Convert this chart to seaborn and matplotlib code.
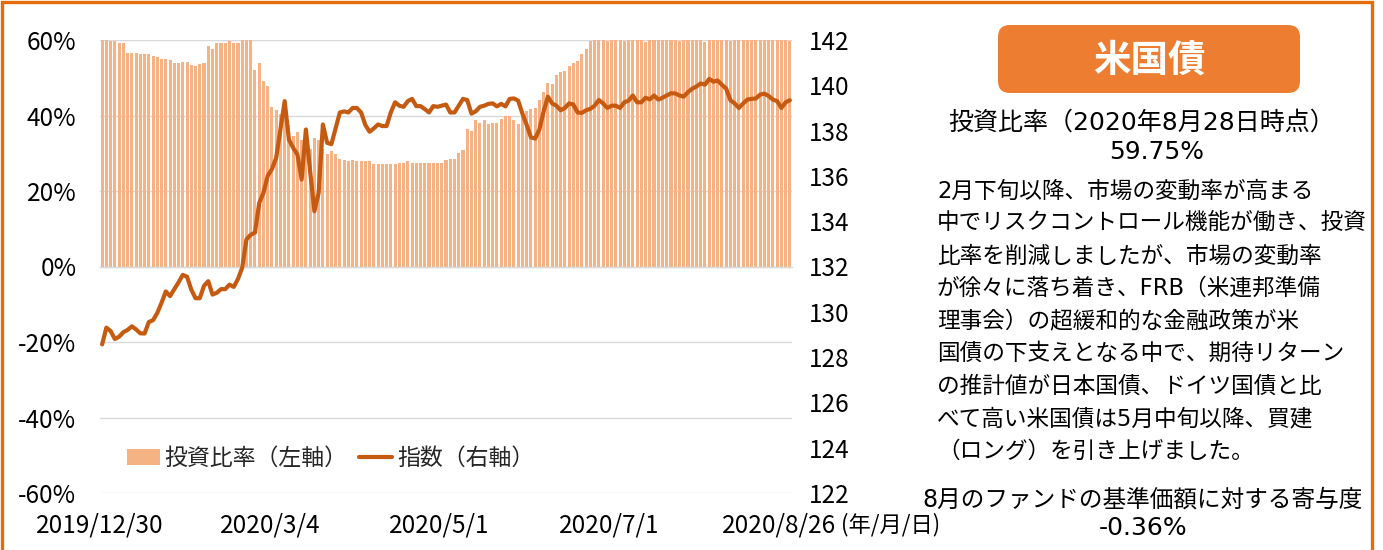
import matplotlib
matplotlib.use("Agg")
import matplotlib.pyplot as plt
import seaborn as sns
import pandas as pd
import numpy as np
from matplotlib.patches import Rectangle, FancyBboxPatch, Patch
from matplotlib.lines import Line2D

# ---------------- data ----------------
tick_labels = ["2019/12/30", "2020/3/4", "2020/5/1", "2020/7/1", "2020/8/26"]
tick_every = 40

ratio = (
    [60.1, 60.0, 59.8, 59.7, 59.3, 59.3]
    + [56.5, 56.5, 56.5, 56.2, 56.2, 56.2]
    + [55.8, 55.4, 55.0, 55.0, 54.7, 54.0, 54.0, 54.3, 54.3, 53.5, 53.2, 53.6, 54.0]
    + [58.3, 57.6, 59.3, 59.3, 59.3, 59.7, 59.3, 59.3, 60.0, 60.3, 60.3]
    + [52.1, 54.0, 49.1, 47.7, 42.2, 41.5, 40.5, 39.0, 37.5, 34.5, 35.5, 33.5, 36.5, 31.0, 34.0, 33.5, 31.0]
    + [29.7, 30.7, 29.7, 28.6, 28.3, 27.9, 28.3, 27.9, 27.9, 27.9, 27.9]
    + [27.2, 27.2, 27.2, 27.2, 27.2, 27.2, 27.5, 27.5, 27.9, 27.5, 27.5, 27.5, 27.5, 27.5, 27.5, 27.5]
    + [27.5, 28.3, 28.6, 28.6, 30.0, 30.9, 36.3, 36.0, 38.8, 38.1, 38.8, 37.8, 38.1, 38.1, 39.2, 39.9,
       39.9, 38.8, 37.8, 39.5, 41.3, 41.7, 42.0]
    + [44.0, 46.3, 48.7, 48.4, 50.7, 51.4, 51.7, 53.2, 54.0, 54.4, 56.2, 57.6, 59.7]
    + [60.0, 60.2, 60.1, 59.8, 60.0, 60.1, 60.2, 59.7, 60.0, 60.1, 59.9, 60.0, 59.5, 60.0, 60.1, 60.2,
       60.0, 60.1, 59.9, 60.0, 59.8, 60.0, 60.2, 60.0, 60.0, 59.9, 59.6, 60.0, 60.1, 60.0, 60.2, 60.0,
       59.8, 60.1, 60.0, 59.9, 60.2, 60.0, 60.1, 60.0, 59.9, 60.2, 60.0, 59.9, 60.0, 60.0, 59.75]
)

index_values = (
    [128.56, 129.3, 129.15, 128.8, 128.9, 129.1, 129.2, 129.36, 129.22, 129.05, 129.04, 129.55, 129.63,
     129.95, 130.4, 130.9, 130.69, 131.0, 131.3, 131.63, 131.55, 130.98, 130.6, 130.6, 131.15, 131.35, 130.76]
    + [130.84, 131.0, 131.0, 131.2, 131.1, 131.45, 131.95, 133.2, 133.4, 133.5, 134.8, 135.25, 136.0,
       136.3, 136.8, 138.05, 139.3, 137.6, 137.24, 136.94, 135.84, 138.05, 136.2, 134.44, 135.25, 138.27, 137.46]
    + [137.4, 138.1, 138.8, 138.85, 138.8, 139.0, 139.0, 138.8, 138.25, 137.95, 138.1, 138.27, 138.2,
       138.2, 138.8, 139.25, 139.1, 139.05, 139.3, 139.4, 139.08, 139.08, 138.95, 138.8, 139.08, 139.05, 139.1]
    + [139.15, 138.8, 138.8, 139.1, 139.4, 139.35, 138.75, 138.85, 139.05, 139.1, 139.18, 139.2, 139.07,
       139.18, 139.07, 139.4, 139.42, 139.32, 138.75, 138.25, 137.7, 137.65, 138.05, 138.85, 139.5, 139.2, 139.1]
    + [138.9, 139.0, 139.2, 139.15, 138.8, 138.78, 138.9, 138.96, 139.1, 139.35, 139.2, 139.0, 139.1,
       139.1, 139.0, 139.25, 139.32, 139.55, 139.25, 139.25, 139.45, 139.38, 139.55, 139.37, 139.45, 139.55, 139.65]
    + [139.64, 139.55, 139.5, 139.7, 139.85, 139.95, 140.08, 140.03, 140.28, 140.16, 140.21, 140.02, 139.85,
       139.34, 139.2, 139.0, 139.2, 139.37, 139.4, 139.42, 139.59, 139.63, 139.53, 139.37, 139.3, 139.0, 139.25, 139.34]
)

n = min(len(ratio), len(index_values))
ratio = ratio[:n]
index_values = index_values[:n]
day = list(range(n))

left_ticks = [-60, -40, -20, 0, 20, 40, 60]
right_ticks = [122, 124, 126, 128, 130, 132, 134, 136, 138, 140, 142]

title_text = "米国債"
sub_title = "投資比率（2020年8月28日時点）"
sub_value = "59.75%"
body_lines = [
    "2月下旬以降、市場の変動率が高まる",
    "中でリスクコントロール機能が働き、投資",
    "比率を削減しましたが、市場の変動率",
    "が徐々に落ち着き、FRB（米連邦準備",
    "理事会）の超緩和的な金融政策が米",
    "国債の下支えとなる中で、期待リターン",
    "の推計値が日本国債、ドイツ国債と比",
    "べて高い米国債は5月中旬以降、買建",
    "（ロング）を引き上げました。",
]
contrib_label = "8月のファンドの基準価額に対する寄与度"
contrib_value = "-0.36%"

BAR_C = "#F5B283"
LINE_C = "#C55A11"
BOX_C = "#ED7D31"
FRAME_C = "#E46C0A"
GRID_C = "#D9D9D9"

# ---------------- style ----------------
sns.set_theme(style="white")
plt.rcParams["font.family"] = ["Noto Sans CJK JP", "DejaVu Sans"]
plt.rcParams["axes.unicode_minus"] = False
PANEL_FONT = ["DejaVu Sans", "Noto Sans CJK JP"]

W, H = 1383, 550
fig = plt.figure(figsize=(W / 100, H / 100), dpi=100)
L, R, B, T = 100, 792, 493, 40
ax = fig.add_axes([L / W, 1 - B / H, (R - L) / W, (B - T) / H])

df = pd.DataFrame({"day": day, "ratio": ratio, "index": index_values})

sns.barplot(data=df, x="day", y="ratio", color=BAR_C, saturation=1, width=0.72,
            errorbar=None, ax=ax, zorder=2, linewidth=0)
ax.set_ylim(-60, 60)
ax.set_yticks(left_ticks)
ax.set_yticklabels([f"{v}%" for v in left_ticks])
ax.set_axisbelow(True)
ax.yaxis.grid(True, color=GRID_C, linewidth=1.0)
ax.xaxis.grid(False)
for s in ["left", "right", "top"]:
    ax.spines[s].set_visible(False)
ax.spines["bottom"].set_position(("data", 0))
ax.spines["bottom"].set_color(GRID_C)
ax.spines["bottom"].set_linewidth(1.0)
tick_pos = [i * tick_every - 0.5 for i in range(len(tick_labels))]
ax.set_xticks(tick_pos)
ax.tick_params(axis="x", length=6, width=1, color=GRID_C, labelbottom=False, direction="out")
ax.tick_params(axis="y", length=0, pad=17, labelsize=17.5, labelcolor="black")
ax.set_xlabel("")
ax.set_ylabel("")

ax2 = ax.twinx()
sns.lineplot(data=df, x="day", y="index", color=LINE_C, linewidth=3.0, ax=ax2, zorder=3)
ax2.set_ylim(122, 142)
ax2.set_yticks(right_ticks)
ax2.set_yticklabels([str(v) for v in right_ticks])
ax2.tick_params(axis="y", length=0, pad=12, labelsize=17.5, labelcolor="black")
for s in ax2.spines.values():
    s.set_visible(False)
ax2.set_ylabel("")
ax2.set_xlabel("")
ax.set_xlim(-0.5, n - 0.5)

sec = ax.secondary_xaxis("bottom")
sec.set_xticks(tick_pos)
sec.set_xticklabels(tick_labels)
sec.tick_params(length=0, pad=14, labelsize=17.5, labelcolor="black")
sec.spines["bottom"].set_visible(False)

fig.text(841 / W, 1 - 525 / H, "(年/月/日)", fontsize=16, ha="left", va="center", color="black")

handles = [Patch(facecolor=BAR_C, edgecolor="none", label="投資比率（左軸）"),
           Line2D([0], [0], color=LINE_C, linewidth=3.0, label="指数（右軸）")]
ax2.legend(handles=handles, loc="center", bbox_to_anchor=(0.333, 0.077), ncol=2, frameon=False,
           fontsize=16.5, handlelength=1.45, handletextpad=0.2, columnspacing=0.5)

# ---------------- right panel ----------------
inch = fig.dpi_scale_trans
box = FancyBboxPatch((998 / 100, (H - 93) / 100), 302 / 100, 68 / 100,
                     boxstyle="round,pad=0,rounding_size=0.12", transform=inch,
                     facecolor=BOX_C, edgecolor="none")
fig.add_artist(box)
fig.text(1149 / W, 1 - 60 / H, title_text, fontsize=27, fontweight="bold", color="white",
         ha="center", va="center")
fig.text(1142 / W, 1 - 123 / H, sub_title, fontsize=18, color="black", ha="center", va="center",
         family=PANEL_FONT)
fig.text(1157 / W, 1 - 152 / H, sub_value, fontsize=18, color="black", ha="center", va="center",
         family=PANEL_FONT)
for k, line in enumerate(body_lines):
    fig.text(937 / W, 1 - (191 + 32.5 * k) / H, line, fontsize=16.3, color="black",
             ha="left", va="center", family=PANEL_FONT)
fig.text(1143 / W, 1 - 500 / H, contrib_label, fontsize=17, color="black", ha="center", va="center",
         family=PANEL_FONT)
fig.text(1143 / W, 1 - 528 / H, contrib_value, fontsize=18, color="black", ha="center", va="center",
         family=PANEL_FONT)

# ---------------- frame ----------------
frame = Rectangle((0.015, -0.2), (1372 - 1.5) / 100, H / 100 - 0.015 + 0.2, transform=inch,
                  facecolor="none", edgecolor=FRAME_C, linewidth=2.4, clip_on=False)
fig.add_artist(frame)

fig.savefig("out.png", dpi=100)
